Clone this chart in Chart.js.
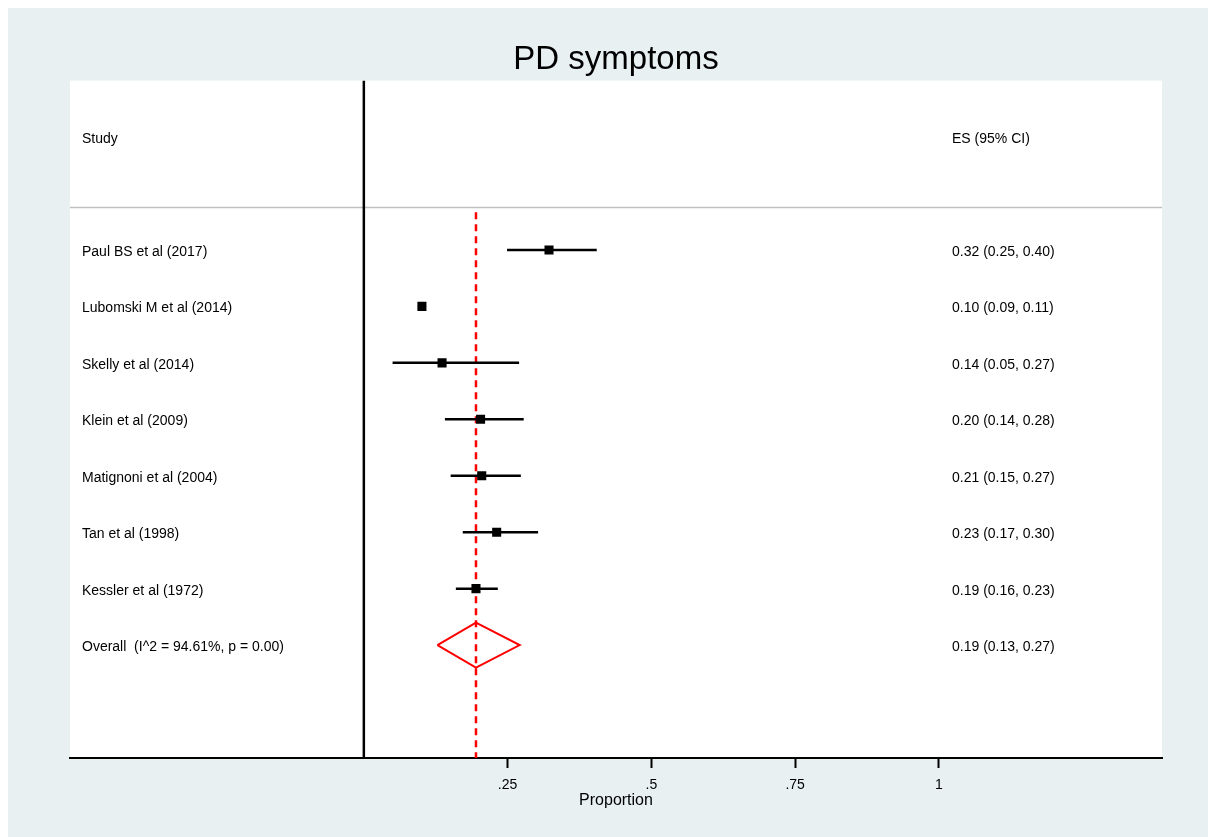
<!DOCTYPE html>
<html>
<head>
<meta charset="utf-8">
<script src="https://cdn.jsdelivr.net/npm/chart.js@4.4.1/dist/chart.umd.min.js"></script>
<style>
  html, body { margin: 0; padding: 0; background: #fff; }
  canvas { display: block; }
</style>
</head>
<body>
<canvas id="forest" width="1208" height="837"></canvas>
<script>
// study rows, top to bottom
const studies = [
  "Paul BS et al (2017)",
  "Lubomski M et al (2014)",
  "Skelly et al (2014)",
  "Klein et al (2009)",
  "Matignoni et al (2004)",
  "Tan et al (1998)",
  "Kessler et al (1972)"
];
const estimates = [0.322, 0.101, 0.136, 0.203, 0.205, 0.231, 0.195];
const lower = [0.249, 0.094, 0.05, 0.141, 0.151, 0.172, 0.16];
const upper = [0.405, 0.108, 0.27, 0.278, 0.273, 0.303, 0.233];
const esLabels = [
  "0.32 (0.25, 0.40)",
  "0.10 (0.09, 0.11)",
  "0.14 (0.05, 0.27)",
  "0.20 (0.14, 0.28)",
  "0.21 (0.15, 0.27)",
  "0.23 (0.17, 0.30)",
  "0.19 (0.16, 0.23)"
];
const overallLabel = "Overall  (I^2 = 94.61%, p = 0.00)";
const overallEstimate = 0.195;
const overallLower = 0.128;
const overallUpper = 0.271;
const overallEsLabel = "0.19 (0.13, 0.27)";
const xTicks = [0.25, 0.5, 0.75, 1];
const xTickLabels = [".25", ".5", ".75", "1"];

const FONT = "'Liberation Sans', Arial, Helvetica, sans-serif";
const xMin = -0.511, xMax = 1.388;
const overallRow = studies.length + 1;

// one line dataset per confidence interval
const ciSets = studies.map((s, i) => ({
  type: "line",
  data: [{ x: lower[i], y: i + 1 }, { x: upper[i], y: i + 1 }],
  borderColor: "#000",
  borderWidth: 2.5,
  pointRadius: 0,
  order: 1
}));

const bgPlugin = {
  id: "bg",
  beforeDraw(chart) {
    const { ctx, chartArea: a } = chart;
    ctx.save();
    ctx.fillStyle = "#fff";
    ctx.fillRect(0, 0, chart.width, chart.height);
    ctx.fillStyle = "#e8f0f2";
    ctx.fillRect(8, 8, chart.width - 8, chart.height - 8);
    ctx.fillStyle = "#fff";
    ctx.fillRect(a.left, a.top, a.right - a.left, a.bottom - a.top);
    ctx.restore();
  }
};

const textPlugin = {
  id: "rowText",
  afterDatasetsDraw(chart) {
    const { ctx, chartArea: a, scales: { y } } = chart;
    const leftX = a.left + 12;
    const rightX = a.left + 882;
    const dy = 2; // middle baseline sits a bit high
    ctx.save();
    ctx.font = "14px " + FONT;
    ctx.fillStyle = "#000";
    ctx.textBaseline = "middle";
    ctx.textAlign = "left";
    ctx.fillText("Study", leftX, y.getPixelForValue(-1) + dy);
    ctx.fillText("ES (95% CI)", rightX, y.getPixelForValue(-1) + dy);
    studies.forEach((s, i) => {
      const py = y.getPixelForValue(i + 1) + dy;
      ctx.fillText(s, leftX, py);
      ctx.fillText(esLabels[i], rightX, py);
    });
    const po = y.getPixelForValue(overallRow) + dy;
    ctx.fillText(overallLabel, leftX, po);
    ctx.fillText(overallEsLabel, rightX, po);
    ctx.restore();
  }
};

new Chart(document.getElementById("forest"), {
  type: "scatter",
  data: {
    datasets: [
      {
        type: "scatter",
        data: estimates.map((v, i) => ({ x: v, y: i + 1 })),
        pointStyle: "rect",
        pointRadius: 6.4,
        backgroundColor: "#000",
        borderColor: "#000",
        borderWidth: 0,
        order: 0
      },
      ...ciSets,
      {
        type: "line",
        data: [
          { x: overallLower, y: overallRow },
          { x: overallEstimate, y: overallRow - 0.4 },
          { x: overallUpper, y: overallRow },
          { x: overallEstimate, y: overallRow + 0.4 },
          { x: overallLower, y: overallRow }
        ],
        borderColor: "#ff0000",
        borderWidth: 2,
        pointRadius: 0,
        fill: false,
        order: 2
      },
      {
        type: "line",
        data: [{ x: overallEstimate, y: 0.33 }, { x: overallEstimate, y: 10 }],
        borderColor: "#ff0000",
        borderWidth: 2.5,
        borderDash: [7, 5],
        pointRadius: 0,
        order: 3
      },
      {
        type: "line",
        data: [{ x: 0, y: -2 }, { x: 0, y: 10 }],
        borderColor: "#000",
        borderWidth: 2.5,
        pointRadius: 0,
        order: 4
      },
      {
        type: "line",
        data: [{ x: xMin, y: 0.25 }, { x: xMax, y: 0.25 }],
        borderColor: "#c0c0c0",
        borderWidth: 1.5,
        pointRadius: 0,
        order: 5
      }
    ]
  },
  options: {
    responsive: false,
    animation: false,
    events: [],
    devicePixelRatio: 1,
    layout: { padding: { left: 70, right: 46, top: 0, bottom: 0 } },
    plugins: {
      legend: { display: false },
      tooltip: { enabled: false },
      title: {
        display: true,
        text: "PD symptoms",
        color: "#000",
        font: { family: FONT, size: 33, weight: "normal" },
        padding: { top: 40, bottom: 1 }
      }
    },
    scales: {
      x: {
        type: "linear",
        min: xMin,
        max: xMax,
        afterBuildTicks: s => { s.ticks = xTicks.map(v => ({ value: v })); },
        afterFit: s => { s.height = 79; },
        ticks: {
          callback: (v, i) => xTickLabels[i],
          color: "#000",
          font: { family: FONT, size: 14 },
          padding: 9,
          maxRotation: 0,
          autoSkip: false
        },
        grid: {
          display: true,
          drawOnChartArea: false,
          drawTicks: true,
          tickLength: 10,
          tickWidth: 2,
          tickColor: "#000"
        },
        border: { display: true, color: "#000", width: 2 },
        title: {
          display: true,
          text: "Proportion",
          color: "#000",
          font: { family: FONT, size: 16 },
          padding: { top: 0, bottom: 27 }
        }
      },
      y: {
        type: "linear",
        min: -2,
        max: 10,
        reverse: true,
        display: false
      }
    }
  },
  plugins: [bgPlugin, textPlugin]
});
</script>
</body>
</html>
